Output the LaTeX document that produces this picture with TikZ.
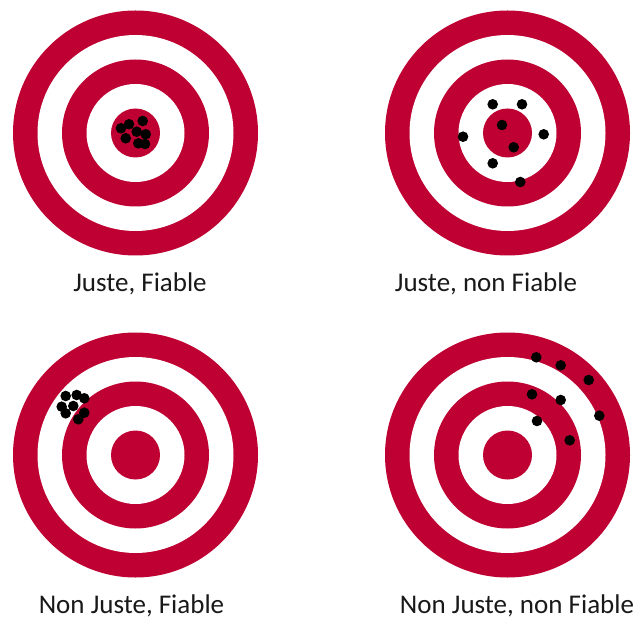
\documentclass[tikz,border=0pt]{standalone}
\usepackage{fontspec}
\setmainfont{Carlito}
\usetikzlibrary{positioning}
\definecolor{targetred}{RGB}{190,0,50}
\tikzset{
      ringred/.style={fill=targetred, draw=none},
      ringwhite/.style={fill=white, draw=none},
      impact/.style={fill=black, draw=none},
      caption/.style={
        anchor=base,
        inner sep=0pt,
        font=\fontsize{27}{32}\selectfont,
        text=black!90
      }
    }
\newcommand{\drawtarget}[2]{%
    \fill[ringred]   (#1,#2) circle (122.5pt);
    \fill[ringwhite] (#1,#2) circle (98pt);
    \fill[ringred]   (#1,#2) circle (73.5pt);
    \fill[ringwhite] (#1,#2) circle (49pt);
    \fill[ringred]   (#1,#2) circle (24.5pt);
}

\begin{document}
\begin{tikzpicture}[x=1pt,y=-1pt]
    \useasboundingbox[fill=white] (0,0) rectangle (634,620);
    % the four targets
    \drawtarget{135.5}{133}
    \drawtarget{507.5}{133}
    \drawtarget{135.5}{455}
    \drawtarget{507.5}{455}
    % impacts
    \foreach \x/\y in {129/124.3, 121/128.3, 142.7/121, 136.7/131.7, 145.7/134.3, 125.7/138.3, 138.3/143.3, 145/144}
      \fill[impact] (\x,\y) circle (5.3pt);
    \foreach \x/\y in {492.7/104.3, 522/104.3, 502/125, 463/136.7, 543.7/134.3, 513.7/147.3, 492.7/163.3, 520.3/182}
      \fill[impact] (\x,\y) circle (5.3pt);
    \foreach \x/\y in {65.7/396, 76.7/395, 84.3/398.3, 61.7/406.7, 73.3/406, 65.7/413.3, 84.3/412.7, 78.3/419.3}
      \fill[impact] (\x,\y) circle (5.3pt);
    \foreach \x/\y in {536.3/357.3, 560.7/365.3, 588.7/380, 532/394.3, 560.7/400, 599.3/415.7, 537/421, 569.7/440.3}
      \fill[impact] (\x,\y) circle (5.3pt);
    % captions
    \node[caption] (c1) at (140,291) {Juste, Fiable};
    \node[caption] (c2) at (486,291) {Juste, non Fiable};
    \node[caption] (c3) at (131.5,613) {Non Juste, Fiable};
    \node[caption] (c4) at (517,613) {Non Juste, non Fiable};
    \end{tikzpicture}
\end{document}
